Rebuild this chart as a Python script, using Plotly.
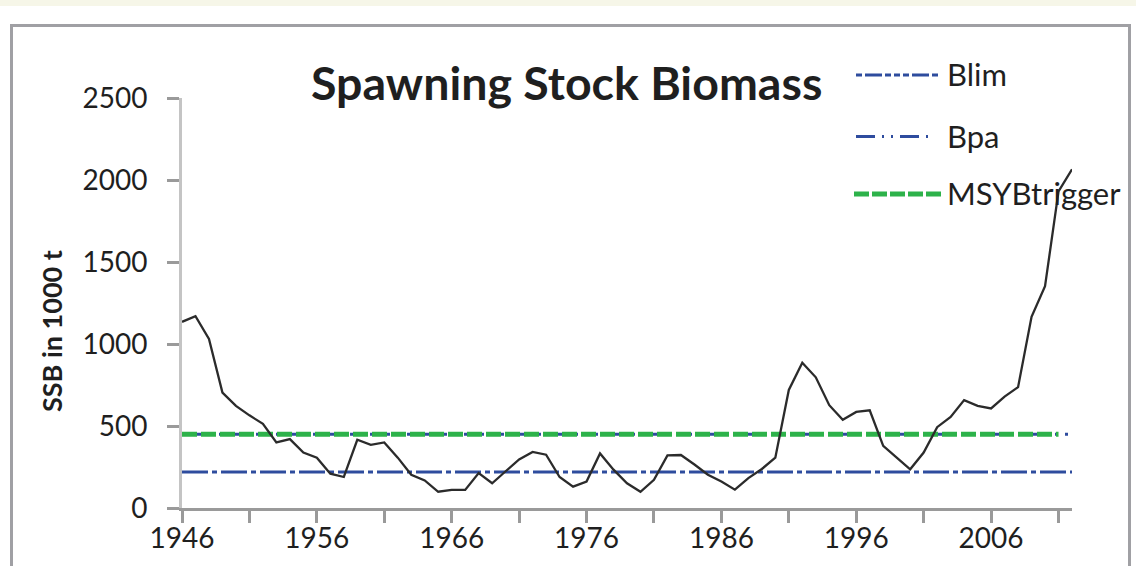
import plotly.graph_objects as go

# ---------------- data ----------------
years = list(range(1946, 2013))
ssb = [1135, 1170, 1031, 704, 623, 565, 513, 400, 420, 338,
       307, 209, 189, 416, 385, 400, 307, 203, 168, 99,
       110, 110, 213, 151, 224, 296, 342, 325, 189, 130,
       161, 333, 234, 151, 99, 172, 321, 323, 265, 203,
       161, 112, 182, 238, 307, 720, 886, 797, 627, 538,
       586, 596, 379, 307, 236, 338, 493, 555, 658, 623,
       607, 679, 737, 1166, 1352, 1931, 2065]
BLIM = 220
BPA = 450
MSYB = 450
ref_years = [1946, 2012]
msy_years = [1946, 2011]
legend_names = ["Blim", "Bpa", "MSYBtrigger"]
x_tick_vals = list(range(1946, 2012, 5))
x_tick_text = [str(v) if (v - 1946) % 10 == 0 else "" for v in x_tick_vals]
y_tick_vals = [0, 500, 1000, 1500, 2000, 2500]

# ---------------- layout geometry ----------------
W, H = 1136, 566
L, R, T, B = 182, 64, 98, 58
PW, PH = W - L - R, H - T - B


def fx(p):
    return (p - L) / PW


def fy(p):
    return (H - B - p) / PH


BLUE = "#2E4C9E"
GREEN = "#2DB24A"
FONT = "Lato"

fig = go.Figure()
fig.add_trace(go.Scatter(x=ref_years, y=[BLIM, BLIM], mode="lines",
                         line=dict(color=BLUE, width=3, dash="26px,4px,5px,4px"),
                         name=legend_names[0], showlegend=False, hoverinfo="skip"))
fig.add_trace(go.Scatter(x=ref_years, y=[BPA, BPA], mode="lines",
                         line=dict(color=BLUE, width=3, dash="20px,7px,3px,7px,3px,7px"),
                         name=legend_names[1], showlegend=False, hoverinfo="skip"))
fig.add_trace(go.Scatter(x=msy_years, y=[MSYB, MSYB], mode="lines",
                         line=dict(color=GREEN, width=5, dash="15px,4px"),
                         name=legend_names[2], showlegend=False, hoverinfo="skip"))
fig.add_trace(go.Scatter(x=years, y=ssb, mode="lines",
                         line=dict(color="#2b2b2b", width=2.3),
                         name="SSB", showlegend=False))

shapes = []
# cream strip at top
shapes.append(dict(type="rect", xref="paper", yref="paper",
                   x0=fx(-5), x1=fx(W + 5), y0=fy(-5), y1=fy(6),
                   fillcolor="#F6F6E8", line=dict(width=0), layer="below"))
# outer frame
shapes.append(dict(type="rect", xref="paper", yref="paper",
                   x0=fx(11.5), x1=fx(1129.5), y0=fy(600), y1=fy(25.5),
                   fillcolor="rgba(0,0,0,0)", line=dict(color="#A0A0A4", width=3), layer="below"))

# manual legend
leg = [
    (legend_names[0], 75, 856, 940, BLUE, 3, "6px,3px,17px,3px,6px,3px,6px,3px"),
    (legend_names[1], 136.5, 856, 930, BLUE, 3, "19px,7px,2px,7px,2px,7px"),
    (legend_names[2], 194, 854, 942, GREEN, 5, "15px,3px"),
]
annotations = []
for name, yy, x0, x1, col, w, dash in leg:
    shapes.append(dict(type="line", xref="paper", yref="paper",
                       x0=fx(x0), x1=fx(x1), y0=fy(yy), y1=fy(yy),
                       line=dict(color=col, width=w, dash=dash)))
    annotations.append(dict(text=name, xref="paper", yref="paper",
                            x=fx(945), y=fy(yy - 1), xanchor="left", yanchor="middle",
                            showarrow=False, font=dict(family=FONT, size=31, color="#1f1f1f")))

# y-axis title
annotations.append(dict(text="<b>SSB in 1000 t</b>", xref="paper", yref="paper",
                        x=fx(51), y=fy(331), xanchor="center", yanchor="middle",
                        textangle=-90, showarrow=False,
                        font=dict(family=FONT, size=27, color="#1f1f1f")))
# title
annotations.append(dict(text="<b>Spawning Stock Biomass</b>", xref="paper", yref="paper",
                        x=fx(566), y=fy(82), xanchor="center", yanchor="middle",
                        showarrow=False,
                        font=dict(family=FONT, size=46.5, color="#1f1f1f")))

fig.update_layout(
    width=W, height=H,
    margin=dict(l=L, r=R, t=T, b=B, autoexpand=False),
    paper_bgcolor="white", plot_bgcolor="white",
    shapes=shapes, annotations=annotations,
    showlegend=False,
    font=dict(family=FONT, size=28, color="#1f1f1f"),
)
fig.update_xaxes(range=[1946, 2012], tickmode="array", tickvals=x_tick_vals, ticktext=x_tick_text,
                 automargin=False,
                 showgrid=False, zeroline=False, showline=True, linecolor="#9A9A9A", linewidth=2.5,
                 ticks="outside", ticklen=12, tickwidth=2.5, tickcolor="#9A9A9A",
                 ticklabelstandoff=-8, tickfont=dict(family=FONT, size=28, color="#1f1f1f"))
fig.update_yaxes(range=[0, 2500], tickmode="array", tickvals=y_tick_vals,
                 automargin=False,
                 showgrid=False, zeroline=False, showline=True, linecolor="#C4C4C4", linewidth=3,
                 ticks="outside", ticklen=12, tickwidth=2.5, tickcolor="#9A9A9A",
                 ticklabelstandoff=14, tickfont=dict(family=FONT, size=28, color="#1f1f1f"))

fig.write_html("out.html", config={"displayModeBar": False},
               post_script="document.body.style.margin='0px';document.body.style.overflow='hidden';")
